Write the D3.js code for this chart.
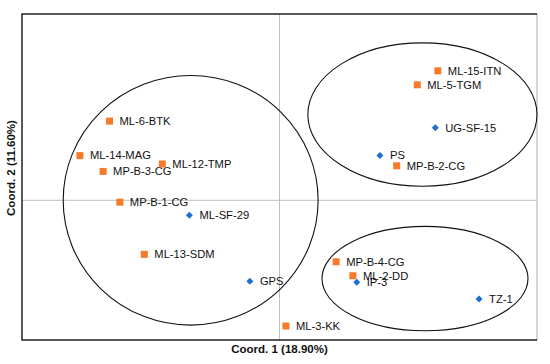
<!DOCTYPE html>
<html>
<head>
<meta charset="utf-8">
<script src="https://cdn.jsdelivr.net/npm/d3@7"></script>
<style>
  body { margin: 0; background: #fff; }
  text { font-family: "Liberation Sans", Arial, sans-serif; }
</style>
</head>
<body>
<div class="container"></div>
<script>
// sample scores on the first two coordinates
const squareNames = ["ML-6-BTK", "ML-14-MAG", "MP-B-3-CG", "ML-12-TMP", "MP-B-1-CG", "ML-13-SDM",
                     "ML-15-ITN", "ML-5-TGM", "MP-B-2-CG", "MP-B-4-CG", "ML-2-DD", "ML-3-KK"];
const squareX = [-1.32, -1.55, -1.37, -0.91, -1.24, -1.05, 1.23, 1.07, 0.91, 0.44, 0.57, 0.05];
const squareY = [0.85, 0.48, 0.31, 0.39, -0.02, -0.58, 1.39, 1.24, 0.37, -0.66, -0.81, -1.35];

const diamondNames = ["UG-SF-15", "PS", "ML-SF-29", "GPS", "IP-3", "TZ-1"];
const diamondX = [1.21, 0.78, -0.70, -0.23, 0.60, 1.55];
const diamondY = [0.78, 0.48, -0.16, -0.87, -0.88, -1.06];

// group ellipses: centre and radii in coordinate units
const ellipseCx = [-0.69, 1.11, 1.13];
const ellipseCy = [0.00, 0.92, -0.84];
const ellipseRx = [0.99, 0.89, 0.80];
const ellipseRy = [1.34, 0.77, 0.56];

const xTitle = "Coord. 1 (18.90%)";
const yTitle = "Coord. 2 (11.60%)";

const width = 550, height = 364;
const plotLeft = 22, plotRight = 537, plotTop = 14, plotBottom = 340;

const x = d3.scaleLinear().domain([-2, 2]).range([plotLeft, plotRight]);
const y = d3.scaleLinear().domain([-1.5, 2]).range([plotBottom, plotTop]);

const svg = d3.select(".container")
  .append("svg")
  .attr("width", width)
  .attr("height", height);

// zero lines
svg.append("line")
  .attr("x1", x(0)).attr("x2", x(0)).attr("y1", plotTop).attr("y2", plotBottom)
  .attr("stroke", "#c0c0c0").attr("stroke-width", 1);
svg.append("line")
  .attr("x1", plotLeft).attr("x2", plotRight).attr("y1", y(0)).attr("y2", y(0))
  .attr("stroke", "#c0c0c0").attr("stroke-width", 1);

// frame: right side is light
svg.append("line")
  .attr("x1", plotRight).attr("x2", plotRight).attr("y1", plotTop).attr("y2", plotBottom)
  .attr("stroke", "#c8c8c8").attr("stroke-width", 1.5);
svg.append("path")
  .attr("d", `M${plotRight},${plotTop}H${plotLeft}V${plotBottom}H${plotRight}`)
  .attr("fill", "none").attr("stroke", "#222").attr("stroke-width", 1.5);

// ellipses
svg.append("g")
  .selectAll("ellipse")
  .data(d3.range(ellipseCx.length))
  .enter()
  .append("ellipse")
  .attr("cx", (i) => x(ellipseCx[i]))
  .attr("cy", (i) => y(ellipseCy[i]))
  .attr("rx", (i) => x(ellipseRx[i]) - x(0))
  .attr("ry", (i) => y(0) - y(ellipseRy[i]))
  .attr("fill", "none")
  .attr("stroke", "#111")
  .attr("stroke-width", 1.1);

const squares = squareNames.map((n, i) => ({ name: n, x: squareX[i], y: squareY[i], kind: "sq" }));
const diamonds = diamondNames.map((n, i) => ({ name: n, x: diamondX[i], y: diamondY[i], kind: "dm" }));
const points = squares.concat(diamonds);

const nodes = svg.append("g")
  .selectAll("g")
  .data(points)
  .enter()
  .append("g")
  .attr("transform", (d) => "translate(" + [x(d.x), y(d.y)] + ")");

nodes.filter((d) => d.kind === "sq")
  .append("rect")
  .attr("x", -3.5).attr("y", -3.5)
  .attr("width", 7).attr("height", 7)
  .attr("fill", "#f7792a");

nodes.filter((d) => d.kind === "dm")
  .append("path")
  .attr("d", "M0,-3.5L3.5,0L0,3.5L-3.5,0Z")
  .attr("fill", "#1f6fd1");

nodes.append("text")
  .attr("x", 10)
  .attr("dy", "0.35em")
  .attr("font-size", "11.2px")
  .attr("fill", "#111")
  .text((d) => d.name);

// axis titles
svg.append("text")
  .attr("x", x(0))
  .attr("y", 353)
  .attr("text-anchor", "middle")
  .attr("font-size", "11.5px")
  .attr("font-weight", "bold")
  .attr("fill", "#111")
  .text(xTitle);

svg.append("text")
  .attr("transform", "translate(15,168) rotate(-90)")
  .attr("text-anchor", "middle")
  .attr("font-size", "11.5px")
  .attr("font-weight", "bold")
  .attr("fill", "#111")
  .text(yTitle);
</script>
</body>
</html>
